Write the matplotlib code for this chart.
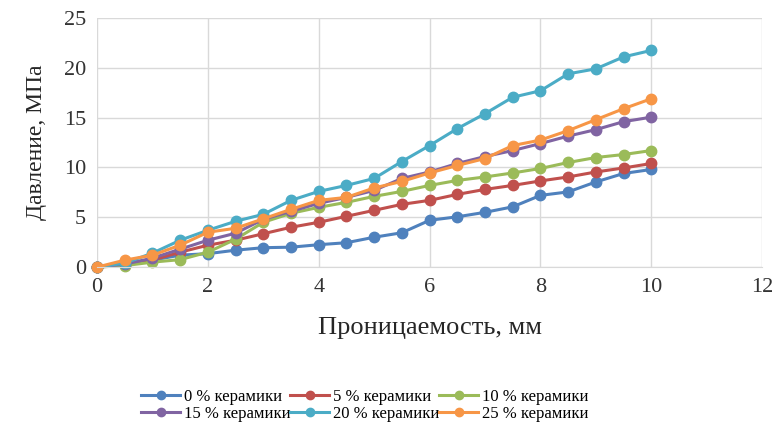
import matplotlib.pyplot as plt

plt.rcParams['font.family'] = ['Liberation Serif', 'DejaVu Serif']

# permeability, mm
x = [0, 0.5, 1, 1.5, 2, 2.5, 3, 3.5, 4, 4.5, 5, 5.5, 6, 6.5, 7, 7.5, 8, 8.5, 9, 9.5, 10]

# pressure, MPa
p0 = [0, 0.2, 0.7, 1.2, 1.35, 1.7, 1.95, 2.0, 2.25, 2.45, 3.0, 3.45, 4.7, 5.05, 5.5, 6.05, 7.2, 7.55, 8.55, 9.4, 9.8]
p5 = [0, 0.3, 0.7, 1.5, 2.2, 2.7, 3.35, 4.0, 4.5, 5.1, 5.7, 6.3, 6.7, 7.3, 7.8, 8.2, 8.65, 9.05, 9.55, 9.95, 10.4]
p10 = [0, 0.15, 0.5, 0.75, 1.5, 2.8, 4.5, 5.4, 6.0, 6.5, 7.1, 7.6, 8.2, 8.7, 9.05, 9.45, 9.9, 10.5, 11.0, 11.3, 11.7]
p15 = [0, 0.3, 0.9, 1.8, 2.7, 3.4, 4.8, 5.6, 6.4, 7.0, 7.7, 8.9, 9.55, 10.4, 11.1, 11.7, 12.4, 13.15, 13.8, 14.6, 15.05]
p20 = [0, 0.4, 1.4, 2.7, 3.7, 4.6, 5.3, 6.7, 7.6, 8.2, 8.9, 10.6, 12.2, 13.9, 15.4, 17.05, 17.7, 19.4, 19.9, 21.1, 21.75]
p25 = [0, 0.7, 1.2, 2.2, 3.5, 3.9, 4.85, 5.8, 6.7, 7.0, 7.95, 8.6, 9.45, 10.2, 10.9, 12.2, 12.75, 13.7, 14.8, 15.9, 16.9]

series = [p0, p5, p10, p15, p20, p25]
labels = ['0 % керамики', '5 % керамики', '10 % керамики',
          '15 % керамики', '20 % керамики', '25 % керамики']
colors = ['#4F81BD', '#C0504D', '#9BBB59', '#8064A2', '#4BACC6', '#F79646']

fig = plt.figure(figsize=(7.73, 4.24), dpi=100)
ax = fig.add_axes([0.1255, 0.37, 0.8605, 0.5875])

lines = []
for y, lab, c in zip(series, labels, colors):
    ln, = ax.plot(x, y, color=c, lw=2.2, marker='o', ms=7.5, label=lab, clip_on=False)
    lines.append(ln)

ax.set_xlim(0, 12)
ax.set_ylim(0, 25)
ax.set_xticks(range(0, 13, 2))
ax.set_yticks(range(0, 26, 5))
ax.grid(True, color='#D9D9D9', lw=1)
ax.set_axisbelow(True)
for s in ['top', 'right', 'left']:
    ax.spines[s].set_visible(False)
ax.spines['bottom'].set_color('#D9D9D9')
ax.tick_params(length=0, labelsize=16, pad=8, colors='#333333')

ax.set_xlabel('Проницаемость, мм', fontsize=19, labelpad=14, color='#262626')
ax.set_ylabel('Давление, МПа', fontsize=17, labelpad=12, color='#262626')

# row-wise legend order, like Excel
order = [0, 3, 1, 4, 2, 5]
fig.legend([lines[i] for i in order], [labels[i] for i in order],
           loc='center', bbox_to_anchor=(0.472, 0.044), ncol=3, frameon=False,
           fontsize=12, handlelength=2.3, handletextpad=0.25, columnspacing=0.0,
           labelspacing=0.05, markerscale=0.8)

fig.savefig('out.png', dpi=100)
